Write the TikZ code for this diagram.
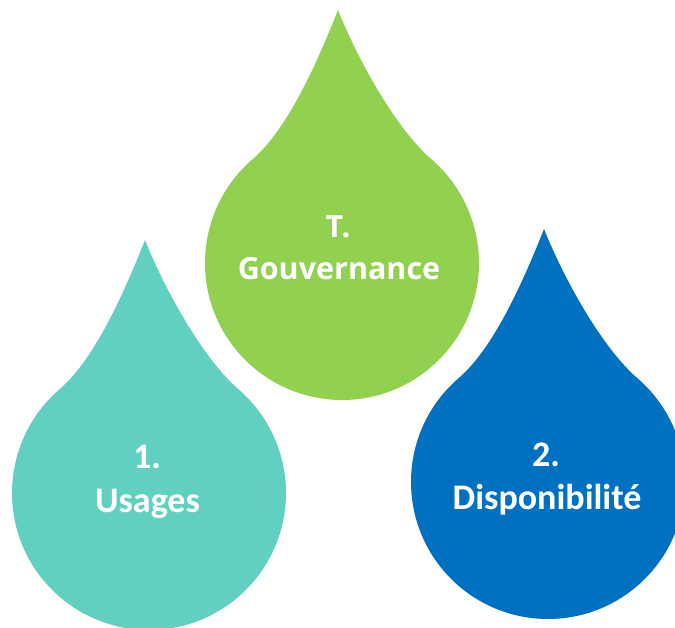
\documentclass[tikz,border=0pt]{standalone}
\usepackage{fontspec}
\setmainfont{Carlito}
\newfontfamily\labelfont{Carlito}
\newfontfamily\titlefont{Open Sans}
\definecolor{dropteal}{HTML}{61D0C1}
\definecolor{dropgreen}{HTML}{92D050}
\definecolor{dropblue}{HTML}{0070C0}
% water drop: circular body of radius 137 with a pointed tip 253 above its centre
\newcommand{\waterdrop}[3]{%
  \fill[#3, shift={(#1,#2)}]
    (-4,253) .. controls (-22.5,206.5) and (-52,137) .. (130:137)
    arc[start angle=130, end angle=410, radius=137]
    .. controls (52,137) and (14.5,206.5) .. (-4,253) -- cycle;}
\tikzset{
  droplabel/.style={text=white, anchor=base, inner sep=0pt, font=\labelfont\bfseries\fontsize{36}{42}\selectfont},
  titlelabel/.style={text=white, anchor=base, inner sep=0pt, font=\titlefont\bfseries\fontsize{30.5}{36}\selectfont}
}
\begin{document}
\begin{tikzpicture}[x=1pt, y=1pt]
  \useasboundingbox (0,0) rectangle (675,627);
  \fill[white] (0,0) rectangle (675,627);
  \clip (0,0) rectangle (675,627);
  \waterdrop{342}{364}{dropgreen}
  \waterdrop{149}{134}{dropteal}
  \waterdrop{548}{145}{dropblue}
  \node[titlelabel] (gnum) at (338,389) {T.};
  \node[titlelabel] (gname) at (339,347) {Gouvernance};
  \node[droplabel] (unum) at (147,158) {1.};
  \node[droplabel] (uname) at (147.5,114) {Usages};
  \node[droplabel] (dnum) at (546,160) {2.};
  \node[droplabel] (dname) at (547,117) {Disponibilité};
\end{tikzpicture}
\end{document}
